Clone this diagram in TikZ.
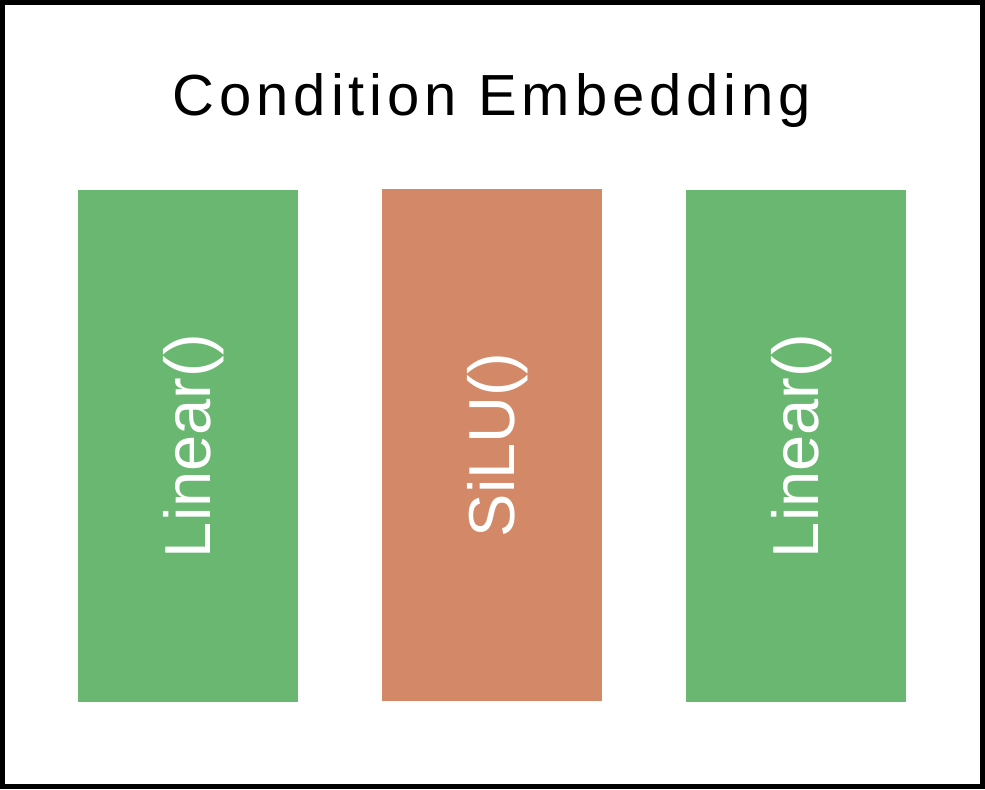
\documentclass[tikz,border=0pt]{standalone}
\usepackage{fontspec}
\setmainfont{Liberation Sans}
\newfontfamily\titlefont[LetterSpace=8.5]{Liberation Sans}
\usetikzlibrary{positioning}
\definecolor{LayerGreen}{HTML}{69B770}
\definecolor{ActOrange}{HTML}{D38867}
\tikzset{
  greenbox/.style={fill=LayerGreen, draw=none, rotate=90, minimum width=10.24cm, minimum height=4.4cm, inner sep=0pt, text=white, font=\fontsize{37}{40}\selectfont, text height=26pt, text depth=0pt},
  orangebox/.style={greenbox, fill=ActOrange},
  title/.style={anchor=base, font=\titlefont\fontsize{33}{36}\selectfont},
  frame/.style={draw=black, line width=0.1cm}
}
\begin{document}
\begin{tikzpicture}[x=0.02cm, y=-0.02cm]
\useasboundingbox (0,0) rectangle (985,789);
\draw[frame] (2.5,2.5) rectangle (982.5,786.5);

\node[title] (head) at (492,115) {Condition Embedding};

\node[greenbox] (lin1) at (188,446) {Linear()};
\node[orangebox] (act) at (492,445) {SiLU()};
\node[greenbox] (lin2) at (796,446) {Linear()};
\end{tikzpicture}
\end{document}
